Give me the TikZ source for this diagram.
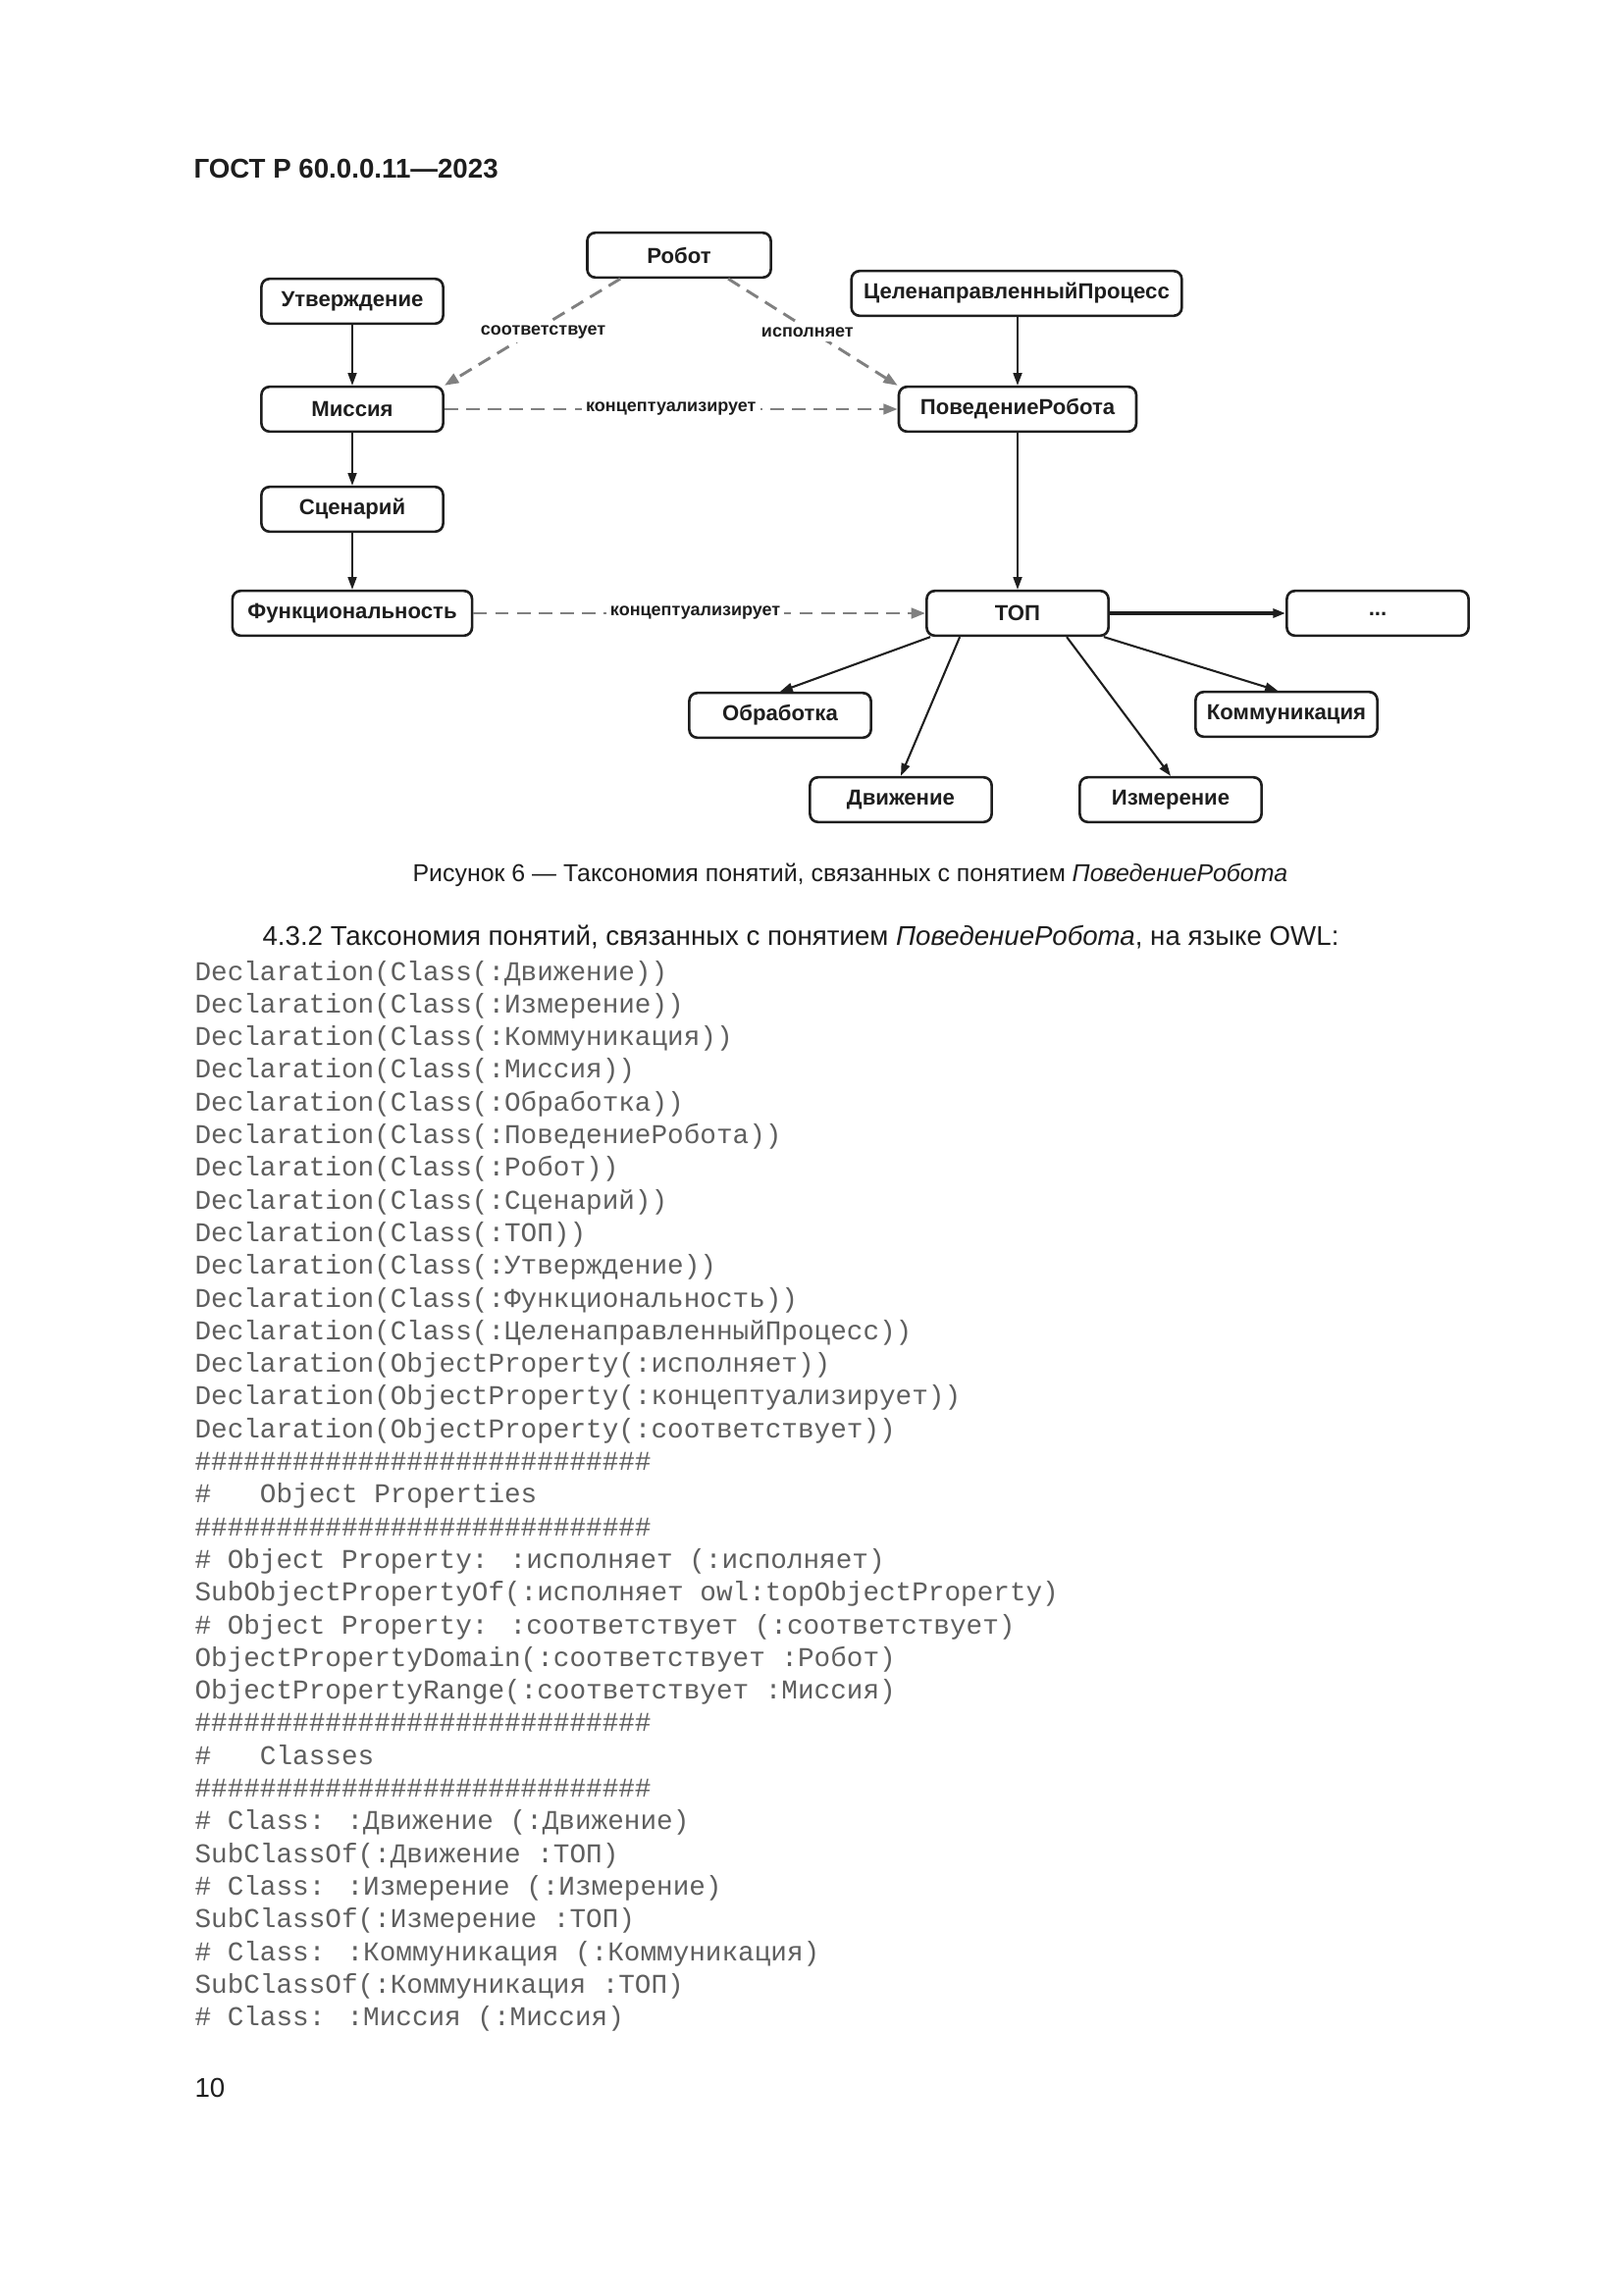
\documentclass[tikz,border=0pt]{standalone}
\usepackage{fontspec}
\setmainfont{Liberation Sans}
\newfontfamily\codefont{Liberation Mono}
\usetikzlibrary{arrows.meta,calc}
\definecolor{dgray}{RGB}{128,128,128}
\definecolor{ink}{RGB}{30,30,30}
\definecolor{codeink}{RGB}{95,95,95}
\newcommand\hashrow{\#\#\#\#\#\#\#\#\#\#\#\#\#\#\#\#\#\#\#\#\#\#\#\#\#\#\#\#}
\begin{document}
\begin{tikzpicture}[x=0.12697mm,y=-0.12697mm,
  box/.style={draw=ink, line width=0.95pt, rounded corners=3pt, minimum height=16.5pt, inner sep=0pt, font=\fontsize{8}{9}\selectfont\bfseries, text=ink, fill=white},
  sol/.style={draw=ink, line width=0.75pt, -{Triangle[length=4.6pt,width=3.2pt]}},
  dsh/.style={draw=dgray, line width=1.05pt, dash pattern=on 5pt off 3pt, -{Triangle[length=5.2pt,width=3.8pt]}},
  elab/.style={font=\fontsize{6.5}{7.5}\selectfont\bfseries, text=ink, fill=white, inner sep=1.5pt},
  code/.style={anchor=base west, inner sep=0pt, font=\codefont\fontsize{10}{12}\selectfont, text=codeink},
  txt/.style={anchor=base west, inner sep=0pt, text=ink},
]
\useasboundingbox[fill=white] (0,0) rectangle (1654,2339);

% header
\node[txt, font=\fontsize{10}{12}\selectfont\bfseries] (hdr) at (197,182) {ГОСТ Р 60.0.0.11—2023};

% diagram nodes
\node[box, minimum width=67.6pt] (robot) at (692,260) {Робот};
\node[box, minimum width=66.9pt] (utv) at (359,307) {Утверждение};
\node[box, minimum width=66.9pt] (mis) at (359,417) {Миссия};
\node[box, minimum width=66.9pt] (scen) at (359,519) {Сценарий};
\node[box, minimum width=88.2pt] (func) at (359,625) {Функциональность};
\node[box, minimum width=121.6pt] (cp) at (1036,299) {ЦеленаправленныйПроцесс};
\node[box, minimum width=87.4pt] (pr) at (1037,417) {ПоведениеРобота};
\node[box, minimum width=66.9pt] (top) at (1037,625) {ТОП};
\node[box, minimum width=66.9pt] (dots) at (1404,625) {\raisebox{-2pt}{...}};
\node[box, minimum width=66.9pt] (obr) at (795,729) {Обработка};
\node[box, minimum width=66.9pt] (dv) at (918,815) {Движение};
\node[box, minimum width=66.9pt] (izm) at (1193,815) {Измерение};
\node[box, minimum width=66.9pt] (kom) at (1311,728) {Коммуникация};

% solid arrows
\draw[sol] (utv.south) -- (mis.north);
\draw[sol] (mis.south) -- (scen.north);
\draw[sol] (scen.south) -- (func.north);
\draw[sol] (cp.south -| pr.north) -- (pr.north);
\draw[sol] (pr.south) -- (top.north);
\draw[sol, line width=1.15pt] (top.east) -- (dots.west);
\draw[sol] ($(top.south west)+(5,0)$) -- (obr.north);
\draw[sol] ($(top.south west)+(35,0)$) -- (dv.north);
\draw[sol] ($(top.south west)+(144,0)$) -- (izm.north);
\draw[sol] ($(top.south east)+(-6,0)$) -- ($(kom.north)+(-9,0)$);

% dashed arrows
\draw[dsh] ($(robot.south west)+(35,0)$) -- (mis.north east)
  node[elab, pos=0.5, xshift=4pt] (lsoot) {соответствует};
\draw[dsh] ($(robot.south west)+(145,0)$) -- (pr.north west)
  node[elab, pos=0.5, xshift=-2pt] (lisp) {исполняет};
\draw[dsh] (mis.east) -- (pr.west)
  node[elab, midway] (lk1) {концептуализирует};
\draw[dsh] (func.east) -- (top.west)
  node[elab, midway, xshift=-1.5pt] (lk2) {концептуализирует};

% caption
\node[txt, font=\fontsize{9}{11}\selectfont] (cap) at (420,898) {Рисунок 6 — Таксономия понятий, связанных с понятием \textit{ПоведениеРобота}};

% body
\node[txt, font=\fontsize{10}{12}\selectfont] (body) at (267,963) {4.3.2 Таксономия понятий, связанных с понятием \textit{ПоведениеРобота}, на языке OWL:};

% code
\node[code] (c1) at (198,{999+33.3*0}) {Declaration(Class(:Движение))};
\node[code] (c2) at (198,{999+33.3*1}) {Declaration(Class(:Измерение))};
\node[code] (c3) at (198,{999+33.3*2}) {Declaration(Class(:Коммуникация))};
\node[code] (c4) at (198,{999+33.3*3}) {Declaration(Class(:Миссия))};
\node[code] (c5) at (198,{999+33.3*4}) {Declaration(Class(:Обработка))};
\node[code] (c6) at (198,{999+33.3*5}) {Declaration(Class(:ПоведениеРобота))};
\node[code] (c7) at (198,{999+33.3*6}) {Declaration(Class(:Робот))};
\node[code] (c8) at (198,{999+33.3*7}) {Declaration(Class(:Сценарий))};
\node[code] (c9) at (198,{999+33.3*8}) {Declaration(Class(:ТОП))};
\node[code] (c10) at (198,{999+33.3*9}) {Declaration(Class(:Утверждение))};
\node[code] (c11) at (198,{999+33.3*10}) {Declaration(Class(:Функциональность))};
\node[code] (c12) at (198,{999+33.3*11}) {Declaration(Class(:ЦеленаправленныйПроцесс))};
\node[code] (c13) at (198,{999+33.3*12}) {Declaration(ObjectProperty(:исполняет))};
\node[code] (c14) at (198,{999+33.3*13}) {Declaration(ObjectProperty(:концептуализирует))};
\node[code] (c15) at (198,{999+33.3*14}) {Declaration(ObjectProperty(:соответствует))};
\node[code] (c16) at (198,{999+33.3*15}) {\hashrow};
\node[code] (c17) at (198,{999+33.3*16}) {\#~~~Object Properties};
\node[code] (c18) at (198,{999+33.3*17}) {\hashrow};
\node[code] (c19) at (198,{999+33.3*18}) {\# Object Property: :исполняет (:исполняет)};
\node[code] (c20) at (198,{999+33.3*19}) {SubObjectPropertyOf(:исполняет owl:topObjectProperty)};
\node[code] (c21) at (198,{999+33.3*20}) {\# Object Property: :соответствует (:соответствует)};
\node[code] (c22) at (198,{999+33.3*21}) {ObjectPropertyDomain(:соответствует :Робот)};
\node[code] (c23) at (198,{999+33.3*22}) {ObjectPropertyRange(:соответствует :Миссия)};
\node[code] (c24) at (198,{999+33.3*23}) {\hashrow};
\node[code] (c25) at (198,{999+33.3*24}) {\#~~~Classes};
\node[code] (c26) at (198,{999+33.3*25}) {\hashrow};
\node[code] (c27) at (198,{999+33.3*26}) {\# Class: :Движение (:Движение)};
\node[code] (c28) at (198,{999+33.3*27}) {SubClassOf(:Движение :ТОП)};
\node[code] (c29) at (198,{999+33.3*28}) {\# Class: :Измерение (:Измерение)};
\node[code] (c30) at (198,{999+33.3*29}) {SubClassOf(:Измерение :ТОП)};
\node[code] (c31) at (198,{999+33.3*30}) {\# Class: :Коммуникация (:Коммуникация)};
\node[code] (c32) at (198,{999+33.3*31}) {SubClassOf(:Коммуникация :ТОП)};
\node[code] (c33) at (198,{999+33.3*32}) {\# Class: :Миссия (:Миссия)};

% page number
\node[txt, font=\fontsize{10}{12}\selectfont] (pnum) at (198,2137) {10};
\end{tikzpicture}
\end{document}
